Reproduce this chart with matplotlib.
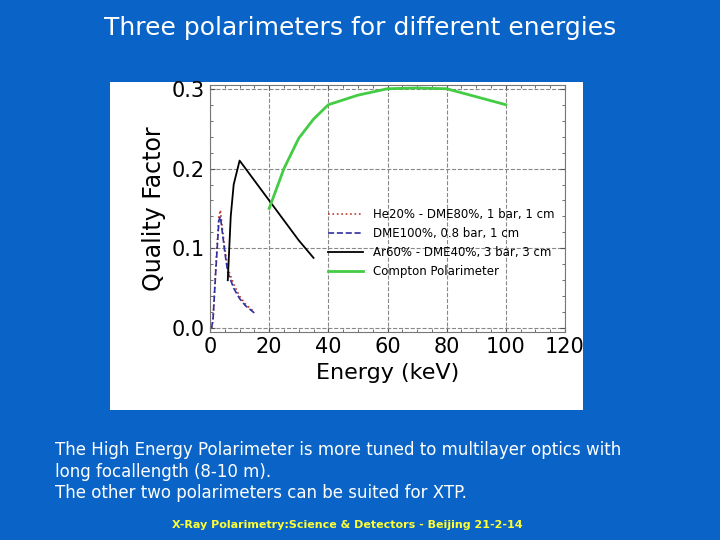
import matplotlib.pyplot as plt
from matplotlib.patches import Rectangle

# data
he_x = [0.5, 1, 2, 3, 3.5, 4, 5, 6, 8, 10, 12, 15]
he_y = [0.0, 0.01, 0.08, 0.14, 0.148, 0.13, 0.1, 0.075, 0.055, 0.04, 0.03, 0.02]
dme_x = [0.5, 1, 2, 3, 3.5, 4, 5, 6, 8, 10, 12, 15]
dme_y = [0.0, 0.01, 0.075, 0.135, 0.14, 0.125, 0.095, 0.07, 0.05, 0.037, 0.028, 0.019]
ar_x = [6, 6.5, 7, 8, 10, 15, 20, 25, 30, 35]
ar_y = [0.06, 0.1, 0.14, 0.18, 0.21, 0.185, 0.16, 0.135, 0.11, 0.088]
co_x = [20, 25, 30, 35, 40, 50, 60, 70, 80, 90, 100]
co_y = [0.15, 0.2, 0.238, 0.262, 0.28, 0.292, 0.3, 0.301, 0.3, 0.29, 0.28]

bg = '#0a64c8'
fig = plt.figure(figsize=(7.2, 5.4), dpi=100, facecolor=bg)

# white panel behind the plot
fig.patches.append(Rectangle((110 / 720, 1 - 410 / 540), 473 / 720, 328 / 540,
                             transform=fig.transFigure, facecolor='white', edgecolor='none',
                             zorder=-10))

ax = fig.add_axes([0.2917, 0.385, 0.493, 0.458])
ax.plot(he_x, he_y, ':', color='#c0392b', lw=1.2, label='He20% - DME80%, 1 bar, 1 cm')
ax.plot(dme_x, dme_y, '--', color='#3030a0', lw=1.2, label='DME100%, 0.8 bar, 1 cm')
ax.plot(ar_x, ar_y, '-', color='black', lw=1.3, label='Ar60% - DME40%, 3 bar, 3 cm')
ax.plot(co_x, co_y, '-', color='#44cc44', lw=2, label='Compton Polarimeter')

ax.set_xlim(0, 120)
ax.set_ylim(-0.005, 0.305)
ax.set_xticks([0, 20, 40, 60, 80, 100, 120])
ax.set_yticks([0.0, 0.1, 0.2, 0.3])
ax.set_yticklabels(['0.0', '0.1', '0.2', '0.3'])
ax.minorticks_on()
ax.tick_params(which='both', direction='in', top=True, right=True, labelsize=15, color='#555555')
ax.grid(True, which='major', linestyle='--', color='#888888', lw=0.8)
for s in ax.spines.values():
    s.set_color('#777777')
ax.set_xlabel('Energy (keV)', fontsize=16)
ax.set_ylabel('Quality Factor', fontsize=17)
ax.legend(loc='center right', bbox_to_anchor=(1.0, 0.36), frameon=False, fontsize=8.5,
          handlelength=3, labelspacing=0.5)

fig.text(0.5, 0.948, 'Three polarimeters for different energies', ha='center', va='center',
         color='white', fontsize=18, family='DejaVu Sans')
fig.text(0.077, 0.07, 'The High Energy Polarimeter is more tuned to multilayer optics with\n'
         'long focallength (8-10 m).\nThe other two polarimeters can be suited for XTP.',
         ha='left', va='bottom', color='white', fontsize=12, linespacing=1.25)
fig.text(0.483, 0.027, 'X-Ray Polarimetry:Science & Detectors - Beijing 21-2-14', ha='center',
         va='center', color='#ffff33', fontsize=8, weight='bold')

fig.savefig('out.png', dpi=100, facecolor=bg)
